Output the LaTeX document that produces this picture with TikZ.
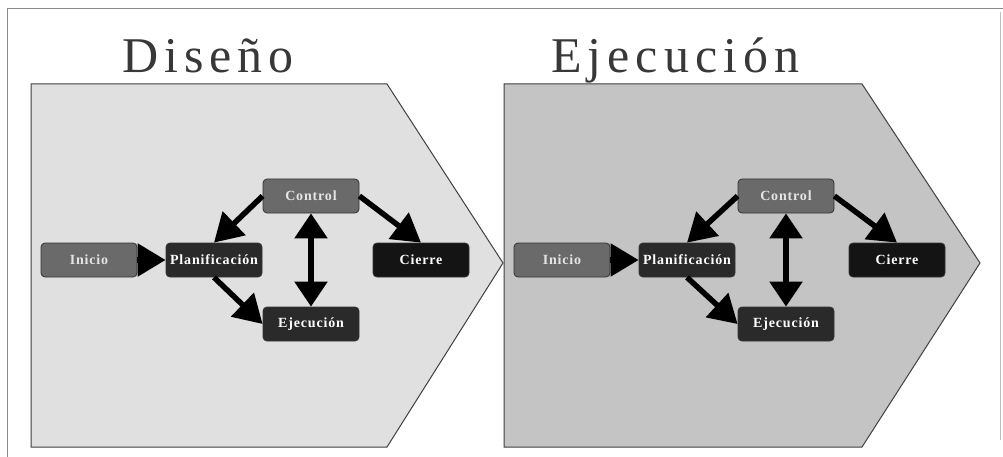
\documentclass[tikz,border=0pt]{standalone}
\usepackage{fontspec}
\setmainfont{Liberation Serif}
\newfontfamily\titlefont[LetterSpace=12]{Liberation Serif}
\newfontfamily\boxfont[LetterSpace=6]{Liberation Serif}
\usetikzlibrary{arrows.meta}
\definecolor{panelA}{HTML}{E0E0E0}
\definecolor{panelB}{HTML}{C4C4C4}
\definecolor{midgray}{HTML}{6A6A6A}
\definecolor{darkgray}{HTML}{2A2A2A}
\definecolor{nearblack}{HTML}{141414}
\definecolor{frame}{HTML}{8A8A8A}
\begin{document}
\begin{tikzpicture}[x=1pt,y=-1pt,
  panel/.style={draw=black!75,line width=1pt},
  stage/.style={draw=black!80,line width=0.8pt,rounded corners=4pt,
    minimum width=96pt,minimum height=34pt,inner sep=0pt,
    text=white,font=\boxfont\bfseries\fontsize{14}{16}\selectfont},
  light/.style={stage,fill=midgray,text=black!10},
  dark/.style={stage,fill=darkgray},
  black/.style={stage,fill=nearblack},
  arr/.style={line width=5.5pt,-{Triangle[length=28pt,width=32pt]}},
  dblarr/.style={line width=5.5pt,{Triangle[length=25pt,width=32pt]}-{Triangle[length=25pt,width=32pt]}},
  title/.style={font=\titlefont\fontsize{50}{56}\selectfont,text=black!78,anchor=base west,inner sep=0pt}]
\useasboundingbox (0,0) rectangle (1003,457);
\fill[white] (0,0) rectangle (1003,457);
% page frame
\draw[frame,line width=1pt] (7,457) -- (7,9) -- (1003,9);
\draw[black!25,line width=0.6pt] (1000,12) -- (1000,440);

% the two phase chevrons
\filldraw[panel,fill=panelB] (504,84) -- (862,84) -- (980,263) -- (862,447) -- (504,447) -- cycle;
\filldraw[panel,fill=panelA] (31,84) -- (387,84) -- (503,263) -- (387,447) -- (31,447) -- cycle;

% titles
\node[title] (t1) at (122,73) {Diseño};
\node[title] (t2) at (551,73) {Ejecución};

% --- first chevron: process diagram
\node[light] (ini1)  at (89,260)  {Inicio};
\node[dark]  (plan1) at (214,260) {Planificación};
\node[light] (ctl1)  at (311,196) {Control};
\node[black] (cie1)  at (421,260) {Cierre};
\node[dark]  (eje1)  at (311,324) {Ejecución};
\draw[arr] (ini1.east) -- (plan1.west);
\draw[arr] (ctl1.west) -- (plan1.north);
\draw[arr] (ctl1.east) -- (cie1.north);
\draw[arr] (plan1.south) -- (eje1.west);
\draw[dblarr] (ctl1.south) -- (eje1.north);

% --- second chevron: same process diagram
\node[light] (ini2)  at (562,260) {Inicio};
\node[dark]  (plan2) at (687,260) {Planificación};
\node[light] (ctl2)  at (786,196) {Control};
\node[black] (cie2)  at (897,260) {Cierre};
\node[dark]  (eje2)  at (786,324) {Ejecución};
\draw[arr] (ini2.east) -- (plan2.west);
\draw[arr] (ctl2.west) -- (plan2.north);
\draw[arr] (ctl2.east) -- (cie2.north);
\draw[arr] (plan2.south) -- (eje2.west);
\draw[dblarr] (ctl2.south) -- (eje2.north);
\end{tikzpicture}
\end{document}
